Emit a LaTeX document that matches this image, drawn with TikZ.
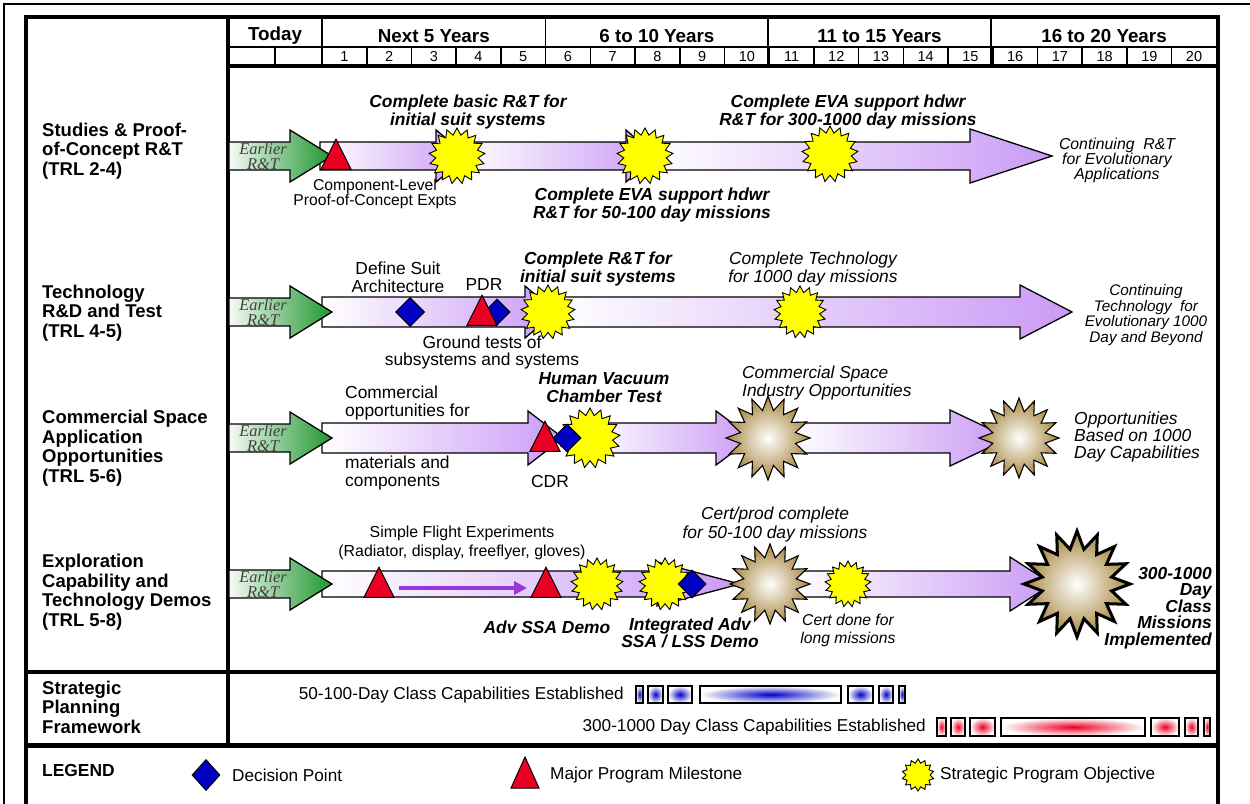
\documentclass[tikz,border=0pt]{standalone}
\usepackage{fontspec}
\setmainfont{Liberation Sans}
\newfontfamily\earlyfont{Liberation Serif}
\usetikzlibrary{shapes.geometric}
\usetikzlibrary{arrows.meta}
\usetikzlibrary{positioning}

\definecolor{purp}{RGB}{202,155,245}
\definecolor{grn}{RGB}{30,150,45}
\definecolor{stan}{RGB}{166,134,62}
\definecolor{msred}{RGB}{235,0,35}
\definecolor{dpblue}{RGB}{0,0,195}
\definecolor{objyel}{RGB}{255,255,0}
\definecolor{lnpurp}{RGB}{150,55,220}

\newcommand{\fsz}[2]{\fontsize{#1}{#2}\selectfont}
% one arrow piece: [style] start, head base, tip, centre y, shaft half, head half
\newcommand{\segarrow}[7][seg]{%
  \shadedraw[#1] (#2,#5-#6) -- (#3,#5-#6) -- (#3,#5-#7) -- (#4,#5)
    -- (#3,#5+#7) -- (#3,#5+#6) -- (#2,#5+#6) -- cycle;}

\begin{document}
\begin{tikzpicture}[
    x=1pt, y=-1pt, % one unit per pixel, y going down
    frame/.style={line width=3.2pt},
    grid/.style={line width=1.6pt},
    hdr/.style={font=\bfseries\fsz{18.8}{20}, inner sep=0},
    yr/.style={font=\fsz{14.5}{15}, inner sep=0},
    rowlab/.style={font=\bfseries\fsz{18.5}{19.5}, align=left, anchor=west, inner sep=0},
    note/.style={font=\fsz{17.4}{18}, align=center, inner sep=0},
    bnote/.style={font=\bfseries\itshape\fsz{17.4}{18}, align=center, inner sep=0},
    inote/.style={font=\itshape\fsz{17.4}{17}, align=center, inner sep=0},
    early/.style={draw, line width=1.3pt, left color=grn!4, right color=grn},
    seg/.style={draw, line width=1.3pt, left color=white, right color=purp},
    earlytext/.style={font=\earlyfont\itshape\fsz{16.4}{15}, text=black!75, align=center, inner sep=0},
    milestone/.style={isosceles triangle, shape border rotate=90, isosceles triangle stretches,
        minimum width=30, minimum height=30, inner sep=0, draw, line width=1pt, fill=msred},
    decision/.style={diamond, draw, line width=1pt, fill=dpblue, minimum width=#1, minimum height=#1, inner sep=0},
    decision/.default=29,
    objective/.style={star, star points=17, star point ratio=1.32, draw, line width=0.9pt,
        fill=objyel, inner sep=0, minimum size=#1},
    objective/.default=54,
    opport/.style={star, star points=16, star point ratio=1.5, draw, line width=1.1pt,
        inner color=white, outer color=stan, inner sep=0, minimum size=#1},
    flowline/.style={draw=lnpurp, line width=3.5pt, -{Triangle[length=13pt,width=13pt]}},
    capbox/.style={draw, line width=1.3pt, inner color=#1, outer color=white}
]
\useasboundingbox (0,0) rectangle (1250,803);

% page border and frame
\draw[line width=1.5pt] (4,810) -- (4,4) -- (1260,4);
\draw[frame] (26,810) -- (26,17) -- (1218,17) -- (1218,810);
\draw[frame] (228,17) -- (228,745);
\draw[grid] (228,47) -- (1218,47);
\draw[frame] (228,66) -- (1218,66);
\draw[frame] (26,672) -- (1218,672);
\draw[line width=5pt] (26,745) -- (1218,745);

% time header
\foreach \bx in {322,545.6,768.2,990.8}
    \draw[grid] (\bx,17) -- (\bx,66);
\draw[grid] (275,47) -- (275,66);
\foreach \k in {1,...,19}
    \draw[grid] ({322+\k*44.72},47) -- ++(0,19);
\foreach \k in {1,...,20}
    \node[yr] (y\k) at ({322+(\k-0.5)*44.72},56.5) {\k};
\node[hdr] (today) at (275,36) {Today};
\node[hdr] (p1) at (433.8,36) {Next 5 Years};
\node[hdr] (p2) at (656.9,36) {6 to 10 Years};
\node[hdr] (p3) at (879.5,36) {11 to 15 Years};
\node[hdr] (p4) at (1104,36) {16 to 20 Years};

% row titles
\node[rowlab] (r1) at (42,151) {Studies \& Proof-\\of-Concept R\&T\\(TRL 2-4)};
\node[rowlab] (r2) at (42,313) {Technology\\R\&D and Test\\(TRL 4-5)};
\node[rowlab] (r3) at (42,448) {Commercial Space\\Application\\Opportunities\\(TRL 5-6)};
\node[rowlab] (r4) at (42,592) {Exploration\\Capability and\\Technology Demos\\(TRL 5-8)};
\node[rowlab] (r5) at (42,707) {Strategic\\Planning\\Framework};

% arrow bodies
\segarrow{320}{436}{468}{156}{14}{26}
\segarrow{462}{626}{656}{156}{14}{26}
\segarrow{652}{970}{1052}{156}{14}{27}
\segarrow{322}{525}{556}{312}{15}{26}
\segarrow{548}{1020}{1072}{312}{15}{27}
\segarrow{322}{528}{563}{438}{15}{27}
\segarrow{585}{716}{752}{438}{15}{27}
\segarrow{790}{950}{1009}{438}{15}{28}
\segarrow{322}{657}{740}{584}{13}{22}
\segarrow{792}{1010}{1052}{584}{13}{27}
\foreach \ry in {156,312,438,584} {
    \segarrow[early]{229}{290}{332}{\ry}{14}{26}
    \node[earlytext] at (263,\ry) {Earlier\\R\&T};
}

% row 1
\node[milestone] (m1) at (336,160) {};
\node[objective=56] (o1) at (457,156) {};
\node[objective=56] (o2) at (645,156) {};
\node[objective=56] (o3) at (830,154) {};
\node[bnote] at (468,112) {Complete basic R\&T for\\initial suit systems};
\node[note, font=\fsz{15.7}{15.5}] at (375,194) {Component-Level\\Proof-of-Concept Expts};
\node[bnote] at (652,205) {Complete EVA support hdwr\\R\&T for 50-100 day missions};
\node[bnote] at (848,112) {Complete EVA support hdwr\\R\&T for 300-1000 day missions};
\node[inote, font=\itshape\fsz{15.8}{15}] at (1117,160) {Continuing~ R\&T\\for Evolutionary\\Applications};

% row 2
\node[decision] (d1) at (410,312) {};
\node[decision=26] (d2) at (497,312) {};
\node[milestone] (m2) at (482,316) {};
\node[objective=54] (o4) at (548,312) {};
\node[objective=52] (o5) at (800,312) {};
\node[note] at (398,277) {Define Suit\\Architecture};
\node[note] at (484,285) {PDR};
\node[bnote] at (598,269) {Complete R\&T for\\initial suit systems};
\node[inote, font=\itshape\fsz{17.4}{18}] at (813,269) {Complete Technology\\for 1000 day missions};
\node[note, font=\fsz{17.4}{17}] at (482,352) {Ground tests of\\subsystems and systems};
\node[inote, font=\itshape\fsz{15.3}{15.6}] at (1146,315) {Continuing\\Technology~ for\\Evolutionary 1000\\Day and Beyond};

% row 3
\node[objective=60] (o6) at (590,438) {};
\node[milestone] (m3) at (545,442) {};
\node[decision=28] (d3) at (567,438) {};
\node[opport=84] (s1) at (768,438) {};
\node[opport=80] (s2) at (1019,438) {};
\node[note, align=left, anchor=west] at (345,403) {Commercial\\opportunities for};
\node[note, align=left, anchor=west] at (345,473) {materials and\\components};
\node[bnote] at (604,388) {Human Vacuum\\Chamber Test};
\node[note] at (550,482) {CDR};
\node[inote, align=left, anchor=west, font=\itshape\fsz{17.3}{18}] at (742,383) {Commercial Space\\Industry Opportunities};
\node[inote, align=left, anchor=west] at (1074,437) {Opportunities\\Based on 1000\\Day Capabilities};

% row 4
\node[milestone] (f1) at (379,588) {};
\node[milestone] (f2) at (546,588) {};
\draw[flowline, shorten <=9pt, shorten >=8pt] (f1) -- (f2);
\node[objective=52] (o7) at (597,584) {};
\node[objective=52] (o8) at (665,584) {};
\node[decision=28] (d4) at (692,584) {};
\node[opport=80] (s3) at (770,584) {};
\node[objective=46] (o9) at (848,584) {};
\node[opport=106, line width=3pt] (s4) at (1077,584) {};
\node[note, font=\fsz{15.9}{19}] at (462,543) {Simple Flight Experiments\\(Radiator, display, freeflyer, gloves)};
\node[inote, font=\itshape\fsz{17.4}{19}] at (775,524) {Cert/prod complete\\for 50-100 day missions};
\node[bnote] at (547,627) {Adv SSA Demo};
\node[bnote, font=\bfseries\itshape\fsz{17.4}{17}] at (690,633) {Integrated Adv\\SSA / LSS Demo};
\node[inote, font=\itshape\fsz{15.7}{18}] at (848,630) {Cert done for\\long missions};
\node[bnote, align=right, anchor=east, font=\bfseries\itshape\fsz{17.4}{16.5}] at (1212,608) {300-1000\\Day\\Class\\Missions\\Implemented};

% strategic planning framework
\node[note, anchor=east, font=\fsz{17.2}{18}] (c1) at (624,695) {50-100-Day Class Capabilities Established};
\foreach \a/\b in {636/643, 648/663, 668/692, 700/841, 848/873, 879/893, 899/905}
    \shadedraw[capbox=dpblue] (\a,686) rectangle (\b,703);
\node[note, anchor=east, font=\fsz{17.2}{18}] (c2) at (926,727) {300-1000 Day Class Capabilities Established};
\foreach \a/\b in {937/946, 951/965, 970/995, 1001/1145, 1151/1179, 1185/1198, 1204/1210}
    \shadedraw[capbox=msred] (\a,718) rectangle (\b,736);

% legend
\node[rowlab, font=\bfseries\fsz{17.4}{18}] (lg) at (42,771) {LEGEND};
\node[diamond, draw, line width=1pt, fill=dpblue, minimum width=28, minimum height=31, inner sep=0] (lgd) at (206,775) {};
\node[note, anchor=west, font=\fsz{17.2}{18}] at (232,775) {Decision Point};
\node[milestone, minimum width=28, minimum height=31] (lgm) at (525,779) {};
\node[note, anchor=west, font=\fsz{17.2}{18}] at (550,775) {Major Program Milestone};
\node[objective=32, star points=14] (lgo) at (918,775) {};
\node[note, anchor=west, font=\fsz{17.2}{18}] at (940,775) {Strategic Program Objective};
\end{tikzpicture}
\end{document}
